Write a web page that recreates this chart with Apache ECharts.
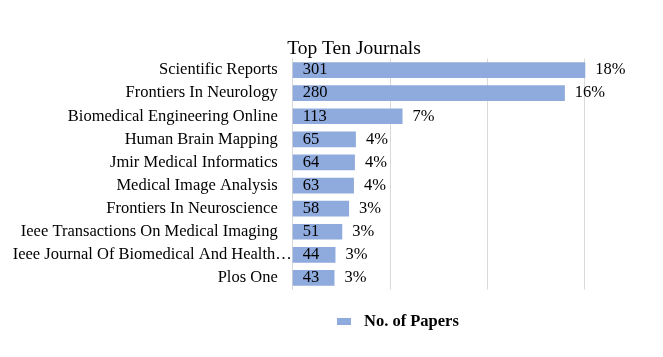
<!DOCTYPE html>
<html>
<head>
<meta charset="utf-8">
<script src="https://cdn.jsdelivr.net/npm/echarts@6/dist/echarts.min.js"></script>
<style>
  html, body { margin: 0; padding: 0; background: #fff; }
  #container { width: 663px; height: 357px; }
</style>
</head>
<body>
<div id="container"></div>
<script>
// journals, top to bottom
const journals = [
  'Scientific Reports',
  'Frontiers In Neurology',
  'Biomedical Engineering Online',
  'Human Brain Mapping',
  'Jmir Medical Informatics',
  'Medical Image Analysis',
  'Frontiers In Neuroscience',
  'Ieee Transactions On Medical Imaging',
  'Ieee Journal Of Biomedical And Health Informatics',
  'Plos One'
]
const papers = [301, 280, 113, 65, 64, 63, 58, 51, 44, 43]
const percents = ['18%', '16%', '7%', '4%', '4%', '4%', '3%', '3%', '3%', '3%']

const font = '"Liberation Serif", "Times New Roman", serif'
const gridColor = '#D9D9D9'
const barColor = '#8FAADC'

// long names get cut at the last word, like the original did
function shortName(name) {
    if (name.length <= 40) return name
    return '{long|' + name.slice(0, name.lastIndexOf(' ')) + '…}'
}

let chart = echarts.init(document.getElementById('container'))

let options = {
    animation: false,
    title: {
        text: 'Top Ten Journals',
        left: 349,
        textAlign: 'center',
        top: 34,
        textStyle: {
            fontFamily: font,
            fontSize: 19.5,
            fontWeight: 'normal',
            color: '#000'
        }
    },
    legend: {
        data: ['No. of Papers'],
        left: 332,
        top: 308,
        itemWidth: 14,
        itemHeight: 7,
        itemGap: 8,
        icon: 'rect',
        textStyle: {
            fontFamily: font,
            fontSize: 16.5,
            fontWeight: 'bold',
            color: '#000',
            padding: [0, 0, 0, 8]
        }
    },
    grid: {
        left: 292.7,
        right: 78.7,
        top: 58.5,
        bottom: 67.5,
        containLabel: false,
        outerBoundsMode: 'none'
    },
    xAxis: {
        type: 'value',
        min: 0,
        max: 300,
        interval: 100,
        axisLabel: { show: false },
        axisLine: { show: false },
        axisTick: { show: false },
        splitLine: {
            show: true,
            lineStyle: { color: gridColor, width: 1 }
        }
    },
    yAxis: {
        type: 'category',
        data: journals,
        inverse: true,
        axisLine: {
            show: true,
            lineStyle: { color: gridColor, width: 1 }
        },
        axisTick: { show: false },
        axisLabel: {
            margin: 15,
            formatter: shortName,
            fontFamily: font,
            fontSize: 16.5,
            color: '#000',
            rich: {
                long: {
                    width: 265,
                    align: 'left',
                    fontFamily: font,
                    fontSize: 16.5,
                    color: '#000'
                }
            }
        }
    },
    series: [
        {
            name: 'No. of Papers',
            type: 'bar',
            data: papers,
            barCategoryGap: '32%',
            clip: false,
            itemStyle: { color: barColor },
            label: {
                show: true,
                position: 'insideLeft',
                distance: 10,
                fontFamily: font,
                fontSize: 16.5,
                color: '#000'
            },
            z: 3
        },
        {
            name: 'percent',
            type: 'bar',
            data: papers,
            barGap: '-100%',
            barCategoryGap: '32%',
            clip: false,
            silent: true,
            itemStyle: { color: 'rgba(0,0,0,0)' },
            label: {
                show: true,
                position: 'right',
                distance: 10,
                fontFamily: font,
                fontSize: 16.5,
                color: '#000',
                formatter: p => percents[p.dataIndex]
            },
            z: 2
        }
    ]
}

chart.setOption(options)
</script>
</body>
</html>
